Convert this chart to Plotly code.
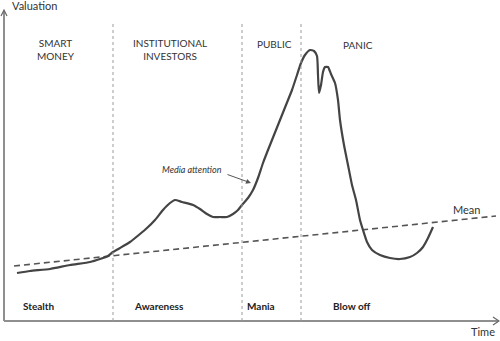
import plotly.graph_objects as go

# Bubble curve: time vs valuation
curve_time = [17, 30, 50, 70, 90, 100, 108, 113, 120, 130, 140, 147, 155, 163, 170, 175, 182, 193, 200, 207,
              213, 220, 227, 233, 238, 242, 248, 253, 258, 263, 268, 274, 280, 286, 292, 297, 301, 305, 310, 314,
              317, 318, 319, 321, 323, 325, 328, 331, 335, 338, 340, 344, 348, 352, 356, 360, 363, 367, 372, 380,
              390, 400, 410, 417, 423, 428, 433]
curve_value = [68, 70, 72, 76, 79, 82, 85, 89, 93, 99, 107, 113, 121, 131, 138, 141, 139, 136, 132, 127,
               124, 124, 124, 127, 131, 136, 143, 151, 163, 178, 191, 206, 221, 236, 251, 266, 278, 286, 291, 290,
               285, 266, 248, 256, 269, 274, 274, 267, 258, 241, 221, 196, 176, 156, 141, 121, 111, 99, 91, 86,
               83, 82, 84, 88, 94, 103, 114]

mean_time = [14, 496]
mean_value = [75, 125]

phase_bounds = [113, 242, 301]
top_labels = ["SMART<br>MONEY", "INSTITUTIONAL<br>INVESTORS", "PUBLIC", "PANIC"]
top_label_x = [56, 170, 274, 358]
top_label_y = [292, 292, 297, 296]
bottom_labels = ["Stealth", "Awareness", "Mania", "Blow off"]
bottom_label_x = [21, 132, 245, 331]

FONT = "Lato"
AXC = "#8f8f8f"

fig = go.Figure()

fig.add_trace(go.Scatter(x=mean_time, y=mean_value, mode="lines",
                         line=dict(color="#555555", width=1.6, dash="6px,4px"), hoverinfo="skip"))
fig.add_trace(go.Scatter(x=curve_time, y=curve_value, mode="lines",
                         line=dict(color="#444444", width=2.2, shape="spline", smoothing=0.5), hoverinfo="skip"))

shapes = []
# axes
shapes.append(dict(type="line", x0=4, x1=4, y0=20, y1=330, line=dict(color=AXC, width=2)))
shapes.append(dict(type="line", x0=4, x1=498, y0=20, y1=20, line=dict(color=AXC, width=2)))
# arrow chevrons
shapes.append(dict(type="path", path="M 1,325 L 4,331 L 7,325", line=dict(color="#666666", width=1.2)))
shapes.append(dict(type="path", path="M 493,24 L 499,20 L 493,16", line=dict(color="#666666", width=1.2)))
for b in phase_bounds:
    shapes.append(dict(type="line", x0=b, x1=b, y0=20, y1=318,
                       line=dict(color="#9a9a9a", width=1, dash="dot")))

ann = []
ann.append(dict(x=10, y=336, text="Valuation", showarrow=False, xanchor="left", yanchor="middle",
                font=dict(family=FONT, size=11, color="#333333")))
for t, x, y in zip(top_labels, top_label_x, top_label_y):
    ann.append(dict(x=x, y=y, text=t, showarrow=False, xanchor="center", yanchor="middle",
                    font=dict(family=FONT, size=10, color="#333333")))
for t, x in zip(bottom_labels, bottom_label_x):
    ann.append(dict(x=x, y=35, text="<b>" + t + "</b>", showarrow=False, xanchor="left", yanchor="middle",
                    font=dict(family=FONT, size=10, color="#222222")))
ann.append(dict(x=160, y=172, text="<i>Media attention</i>", showarrow=False, xanchor="left", yanchor="middle",
                font=dict(family=FONT, size=9, color="#333333")))
ann.append(dict(x=251, y=158, ax=226, ay=167, axref="x", ayref="y", text="", showarrow=True,
                arrowhead=2, arrowsize=1, arrowwidth=1, arrowcolor="#555555"))
ann.append(dict(x=451, y=132, text="Mean", showarrow=False, xanchor="left", yanchor="middle",
                font=dict(family=FONT, size=11, color="#333333")))
ann.append(dict(x=469, y=1, text="Time", showarrow=False, xanchor="left", yanchor="bottom",
                font=dict(family=FONT, size=11, color="#333333")))

fig.update_layout(
    width=500, height=341, margin=dict(l=0, r=0, t=0, b=0),
    paper_bgcolor="white", plot_bgcolor="white", showlegend=False,
    xaxis=dict(range=[0, 500], visible=False, fixedrange=True),
    yaxis=dict(range=[0, 341], visible=False, fixedrange=True),
    shapes=shapes, annotations=ann,
)

fig.write_html("out.html", config={"displayModeBar": False})
